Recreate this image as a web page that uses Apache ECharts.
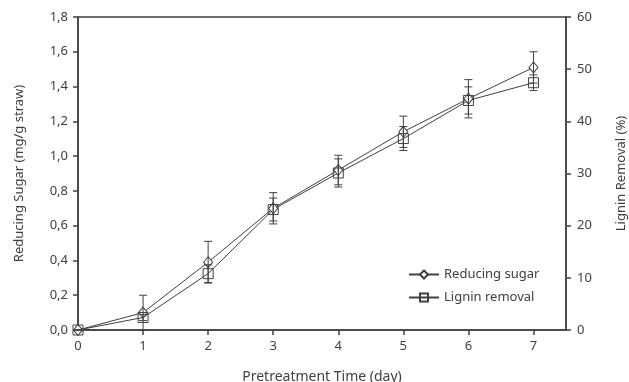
<!DOCTYPE html>
<html>
<head>
<meta charset="utf-8">
<script src="https://cdn.jsdelivr.net/npm/echarts@6/dist/echarts.min.js"></script>
<style>html,body{margin:0;padding:0;background:#fff}#c{width:629px;height:382px}</style>
</head>
<body>
<div id="c"></div>
<script>
var days = [0, 1, 2, 3, 4, 5, 6, 7];
var xTickLabels = ['0', '1', '2', '3', '4', '5', '6', '7'];
var sugar = [0, 0.10, 0.39, 0.70, 0.92, 1.14, 1.33, 1.51];
var sugarErr = [0, 0.10, 0.12, 0.09, 0.085, 0.09, 0.11, 0.09];
var lignin = [0, 2.4, 10.8, 23.1, 30.1, 36.7, 44.0, 47.4];
var ligninErr = [0, 0.6, 1.7, 2.2, 2.7, 2.3, 2.6, 1.5];

var C = '#404040';
var FONT = 'Noto Sans';

function pairs(xs, ys) { return xs.map(function (x, i) { return [x, ys[i]]; }); }
function errData(xs, ys, es) { return xs.map(function (x, i) { return [x, ys[i] - es[i], ys[i] + es[i]]; }); }
function errRender(params, api) {
  var x = api.value(0);
  var lo = api.coord([x, api.value(1)]);
  var hi = api.coord([x, api.value(2)]);
  var w = 4;
  var st = { stroke: C, lineWidth: 1 };
  return { type: 'group', children: [
    { type: 'line', shape: { x1: lo[0], y1: lo[1], x2: hi[0], y2: hi[1] }, style: st },
    { type: 'line', shape: { x1: lo[0] - w, y1: lo[1], x2: lo[0] + w, y2: lo[1] }, style: st },
    { type: 'line', shape: { x1: hi[0] - w, y1: hi[1], x2: hi[0] + w, y2: hi[1] }, style: st }
  ]};
}

var chart = echarts.init(document.getElementById('c'), null, { renderer: 'canvas' });
chart.setOption({
  animation: false,
  backgroundColor: '#fff',
  textStyle: { fontFamily: FONT },
  grid: { left: 78, right: 63, top: 17, bottom: 52, containLabel: false, outerBoundsMode: 'none',
    show: true, borderColor: C, borderWidth: 1.5, backgroundColor: 'transparent' },
  legend: {
    orient: 'vertical', left: 403, top: 263, itemWidth: 30, itemHeight: 10, itemGap: 10,
    textStyle: { fontFamily: FONT, fontSize: 13, color: C },
    data: ['Reducing sugar', 'Lignin removal']
  },
  xAxis: {
    type: 'value', min: 0, max: 7.5, interval: 1,
    name: 'Pretreatment Time (day)', nameLocation: 'middle', nameGap: 40,
    nameTextStyle: { fontFamily: FONT, fontSize: 14, color: C },
    axisLine: { lineStyle: { color: C, width: 1.5 } },
    axisTick: { show: true, length: 5, lineStyle: { color: C, width: 1.5 }, customValues: days },
    axisLabel: { color: C, fontSize: 13, margin: 10, fontFamily: FONT, customValues: days,
      formatter: function (v) { var i = days.indexOf(v); return i >= 0 ? xTickLabels[i] : ''; } },
    splitLine: { show: false }
  },
  yAxis: [{
    type: 'value', min: 0, max: 1.8, interval: 0.2, position: 'left',
    name: 'Reducing Sugar (mg/g straw)', nameLocation: 'middle', nameGap: 52, nameRotate: 90,
    nameTextStyle: { fontFamily: FONT, fontSize: 13, color: C },
    axisLine: { show: true, lineStyle: { color: C, width: 1.5 } },
    axisTick: { show: true, length: 5, lineStyle: { color: C, width: 1.5 } },
    axisLabel: { color: C, fontSize: 13, margin: 10, fontFamily: FONT,
      formatter: function (v) { return v.toFixed(1).replace('.', ','); } },
    splitLine: { show: false }
  }, {
    type: 'value', min: 0, max: 60, interval: 10, position: 'right',
    name: 'Lignin Removal (%)', nameLocation: 'middle', nameGap: 49, nameRotate: 90,
    nameTextStyle: { fontFamily: FONT, fontSize: 13, color: C },
    axisLine: { show: true, lineStyle: { color: C, width: 1.5 } },
    axisTick: { show: true, length: 5, lineStyle: { color: C, width: 1.5 } },
    axisLabel: { color: C, fontSize: 13, margin: 11, fontFamily: FONT },
    splitLine: { show: false }
  }],
  series: [{
    name: 'Reducing sugar', type: 'line', yAxisIndex: 0, data: pairs(days, sugar),
    symbol: 'diamond', symbolSize: [9, 11], showAllSymbol: true,
    lineStyle: { color: C, width: 1 },
    itemStyle: { color: '#fff', borderColor: C, borderWidth: 1 }, z: 3
  }, {
    name: 'Lignin removal', type: 'line', yAxisIndex: 1, data: pairs(days, lignin),
    symbol: 'rect', symbolSize: 10, showAllSymbol: true,
    lineStyle: { color: C, width: 1 },
    itemStyle: { color: 'transparent', borderColor: C, borderWidth: 1 }, z: 3
  }, {
    type: 'custom', yAxisIndex: 0, data: errData(days, sugar, sugarErr), renderItem: errRender, z: 4, silent: true
  }, {
    type: 'custom', yAxisIndex: 1, data: errData(days, lignin, ligninErr), renderItem: errRender, z: 4, silent: true
  }]
});
</script>
</body>
</html>
